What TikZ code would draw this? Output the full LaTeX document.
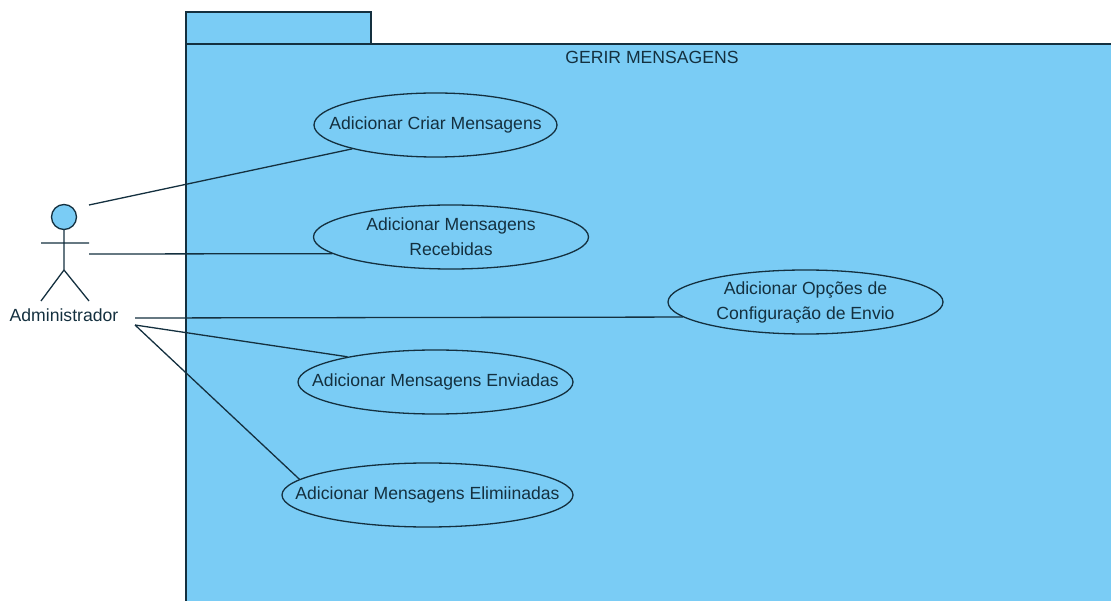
\documentclass[tikz,border=0pt]{standalone}
\usepackage{fontspec}
\setmainfont{Liberation Sans}
\usetikzlibrary{shapes.geometric}
\definecolor{pkgblue}{HTML}{7ACCF5}
\definecolor{pkgline}{HTML}{14303F}
\tikzset{
  usecase/.style={ellipse, draw=pkgline, fill=pkgblue, line width=1.3pt, inner xsep=-60pt, inner ysep=-20pt, font=\fontsize{17.6}{25}\selectfont, text=pkgline, align=center},
  plainlabel/.style={font=\fontsize{17.6}{22}\selectfont, text=pkgline},
  assoc/.style={draw=pkgline, line width=1.3pt},
}
\begin{document}
\begin{tikzpicture}[x=1pt, y=-1pt, line width=1.3pt]
    \useasboundingbox (0,0) rectangle (1111,601);
    \fill[pkgblue] (186,12) rectangle (371,44);
    \fill[pkgblue] (186,44) rectangle (1111,601);
    \draw[pkgline] (186,44) -- (186,12) -- (371,12) -- (371,44);
    \draw[pkgline] (186,601) -- (186,44) -- (1111,44);
    \node[plainlabel] (pkg) at (652,57) {GERIR MENSAGENS};

    \node[usecase, minimum width=243pt, minimum height=64pt] (criar) at (435.5,125) {Adicionar Criar Mensagens};
    \node[usecase, minimum width=275pt, minimum height=64pt] (recebidas) at (451,237) {Adicionar Mensagens\\Recebidas};
    \node[usecase, minimum width=275pt, minimum height=64pt] (opcoes) at (805.5,302) {Adicionar Opções de\\Configuração de Envio};
    \node[usecase, minimum width=275pt, minimum height=64pt] (enviadas) at (435.5,382) {Adicionar Mensagens Enviadas};
    \node[usecase, minimum width=291pt, minimum height=64pt] (eliminadas) at (427.5,495) {Adicionar Mensagens Elimiinadas};

    % actor
    \node[circle, draw=pkgline, fill=pkgblue, minimum size=25pt, inner sep=0pt] (head) at (64,217) {};
    \coordinate (hip) at (64,270);
    \coordinate (armL) at (41,243);
    \coordinate (armR) at (89,243);
    \coordinate (footL) at (41,301);
    \coordinate (footR) at (89,301);
    \draw[pkgline] (head) -- (hip) (armL) -- (armR) (footL) -- (hip) -- (footR);
    \node[plainlabel] (admin) at (64,315) {Administrador};

    \coordinate (a1) at (89,205);
    \coordinate (a2) at (89,254);
    \coordinate (a3) at (135,318);
    \coordinate (a4) at (135,325);

    \draw[assoc] (a1) -- (criar.196);
    \draw[assoc] (a2) -- (recebidas.188);
    \draw[assoc] (a3) -- (opcoes.187);
    \draw[assoc] (a4) -- (enviadas.164);
    \draw[assoc] (a4) -- (eliminadas.173);
\end{tikzpicture}
\end{document}
